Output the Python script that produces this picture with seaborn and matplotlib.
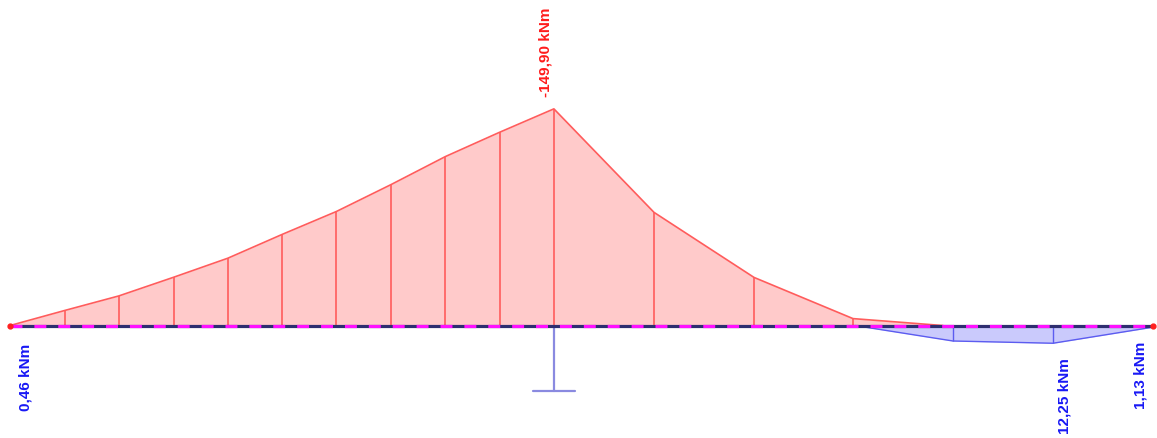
import matplotlib
matplotlib.use("Agg")
import matplotlib.pyplot as plt
import pandas as pd
import seaborn as sns

# stations along the beam [m] and bending moment [kNm] (negative = hogging, drawn upwards)
hog_x = [0.0, 0.546, 1.089, 1.636, 2.179, 2.720, 3.264, 3.810, 4.354, 4.896, 5.439, 6.44, 7.44, 8.43, 9.33]
hog_m = [0.0, -10.4, -20.5, -33.4, -46.6, -63.0, -78.9, -97.5, -116.9, -133.7, -149.9, -78.3, -33.3, -4.8, 0.0]

sag_x = [8.45, 9.43, 10.43, 11.43]
sag_m = [0.0, 10.7, 12.25, 1.13]

label_x = [0.0, 5.439, 10.43, 11.43]
label_m = [0.46, -149.90, 12.25, 1.13]

support_x = 5.439
beam_x = [0.0, 11.43]

RED_FILL, RED_LINE, RED_TXT = "#ffcaca", "#ff5c5c", "#ff1c1c"
BLUE_FILL, BLUE_LINE, BLUE_TXT = "#cacafc", "#5c5cf0", "#1818f5"

hog = pd.DataFrame({"x": hog_x, "y": [-m for m in hog_m]})
sag = pd.DataFrame({"x": sag_x, "y": [-m for m in sag_m]})

sns.set_theme(style="white")
plt.rcParams["font.family"] = ["Liberation Sans", "DejaVu Sans"]
plt.rcParams["lines.scale_dashes"] = False

fig = plt.figure(figsize=(11.57, 4.39), dpi=100)
ax = fig.add_axes([0, 0, 1, 1])

# hogging part (red)
ax.fill_between(hog["x"], 0, hog["y"], color=RED_FILL, lw=0)
sns.lineplot(data=hog, x="x", y="y", ax=ax, color=RED_LINE, lw=1.2, sort=False)
ax.vlines(hog["x"][1:-1], 0, hog["y"][1:-1], color=RED_LINE, lw=1.2)

# sagging part (blue)
ax.fill_between(sag["x"], 0, sag["y"], color=BLUE_FILL, lw=0)
sns.lineplot(data=sag, x="x", y="y", ax=ax, color=BLUE_LINE, lw=1.0, sort=False)
ax.vlines(sag["x"][1:-1], 0, sag["y"][1:-1], color=BLUE_LINE, lw=1.0)

# support symbol
ax.plot([support_x, support_x], [0, -45.3], color="#8a8ae0", lw=1.6)
ax.plot([support_x - 0.21, support_x + 0.21], [-45.3, -45.3], color="#8a8ae0", lw=1.6)

# beam axis: navy line with magenta dashes
ax.plot(beam_x, [0, 0], color="#2e2e70", lw=2.3, solid_capstyle="butt")
ax.plot(beam_x, [0, 0], color="#ff10ff", lw=2.3, dashes=(8.6, 8.6))
ax.plot(beam_x, [0, 0], "o", color="#ff2020", ms=3.5, lw=0)

# value labels
offsets = [(6, -12, "left"), (-1, 9, "right"), (3, -10, "left"), (-4, -10, "right")]
for x, m, (dx, dy, ha) in zip(label_x, label_m, offsets):
    txt = f"{m:.2f}".replace(".", ",") + " kNm"
    col = RED_TXT if m < 0 else BLUE_TXT
    va = "bottom" if m < 0 else "top"
    ax.annotate(txt, (x, -m), xytext=(dx, dy), textcoords="offset points",
                rotation=90, ha=ha, va=va, color=col, fontsize=11, fontweight="bold")

ax.set_xlim(-0.10, 11.47)
ax.set_ylim(-77.8, 225.9)
ax.set_axis_off()

fig.savefig("out.png", dpi=100)
